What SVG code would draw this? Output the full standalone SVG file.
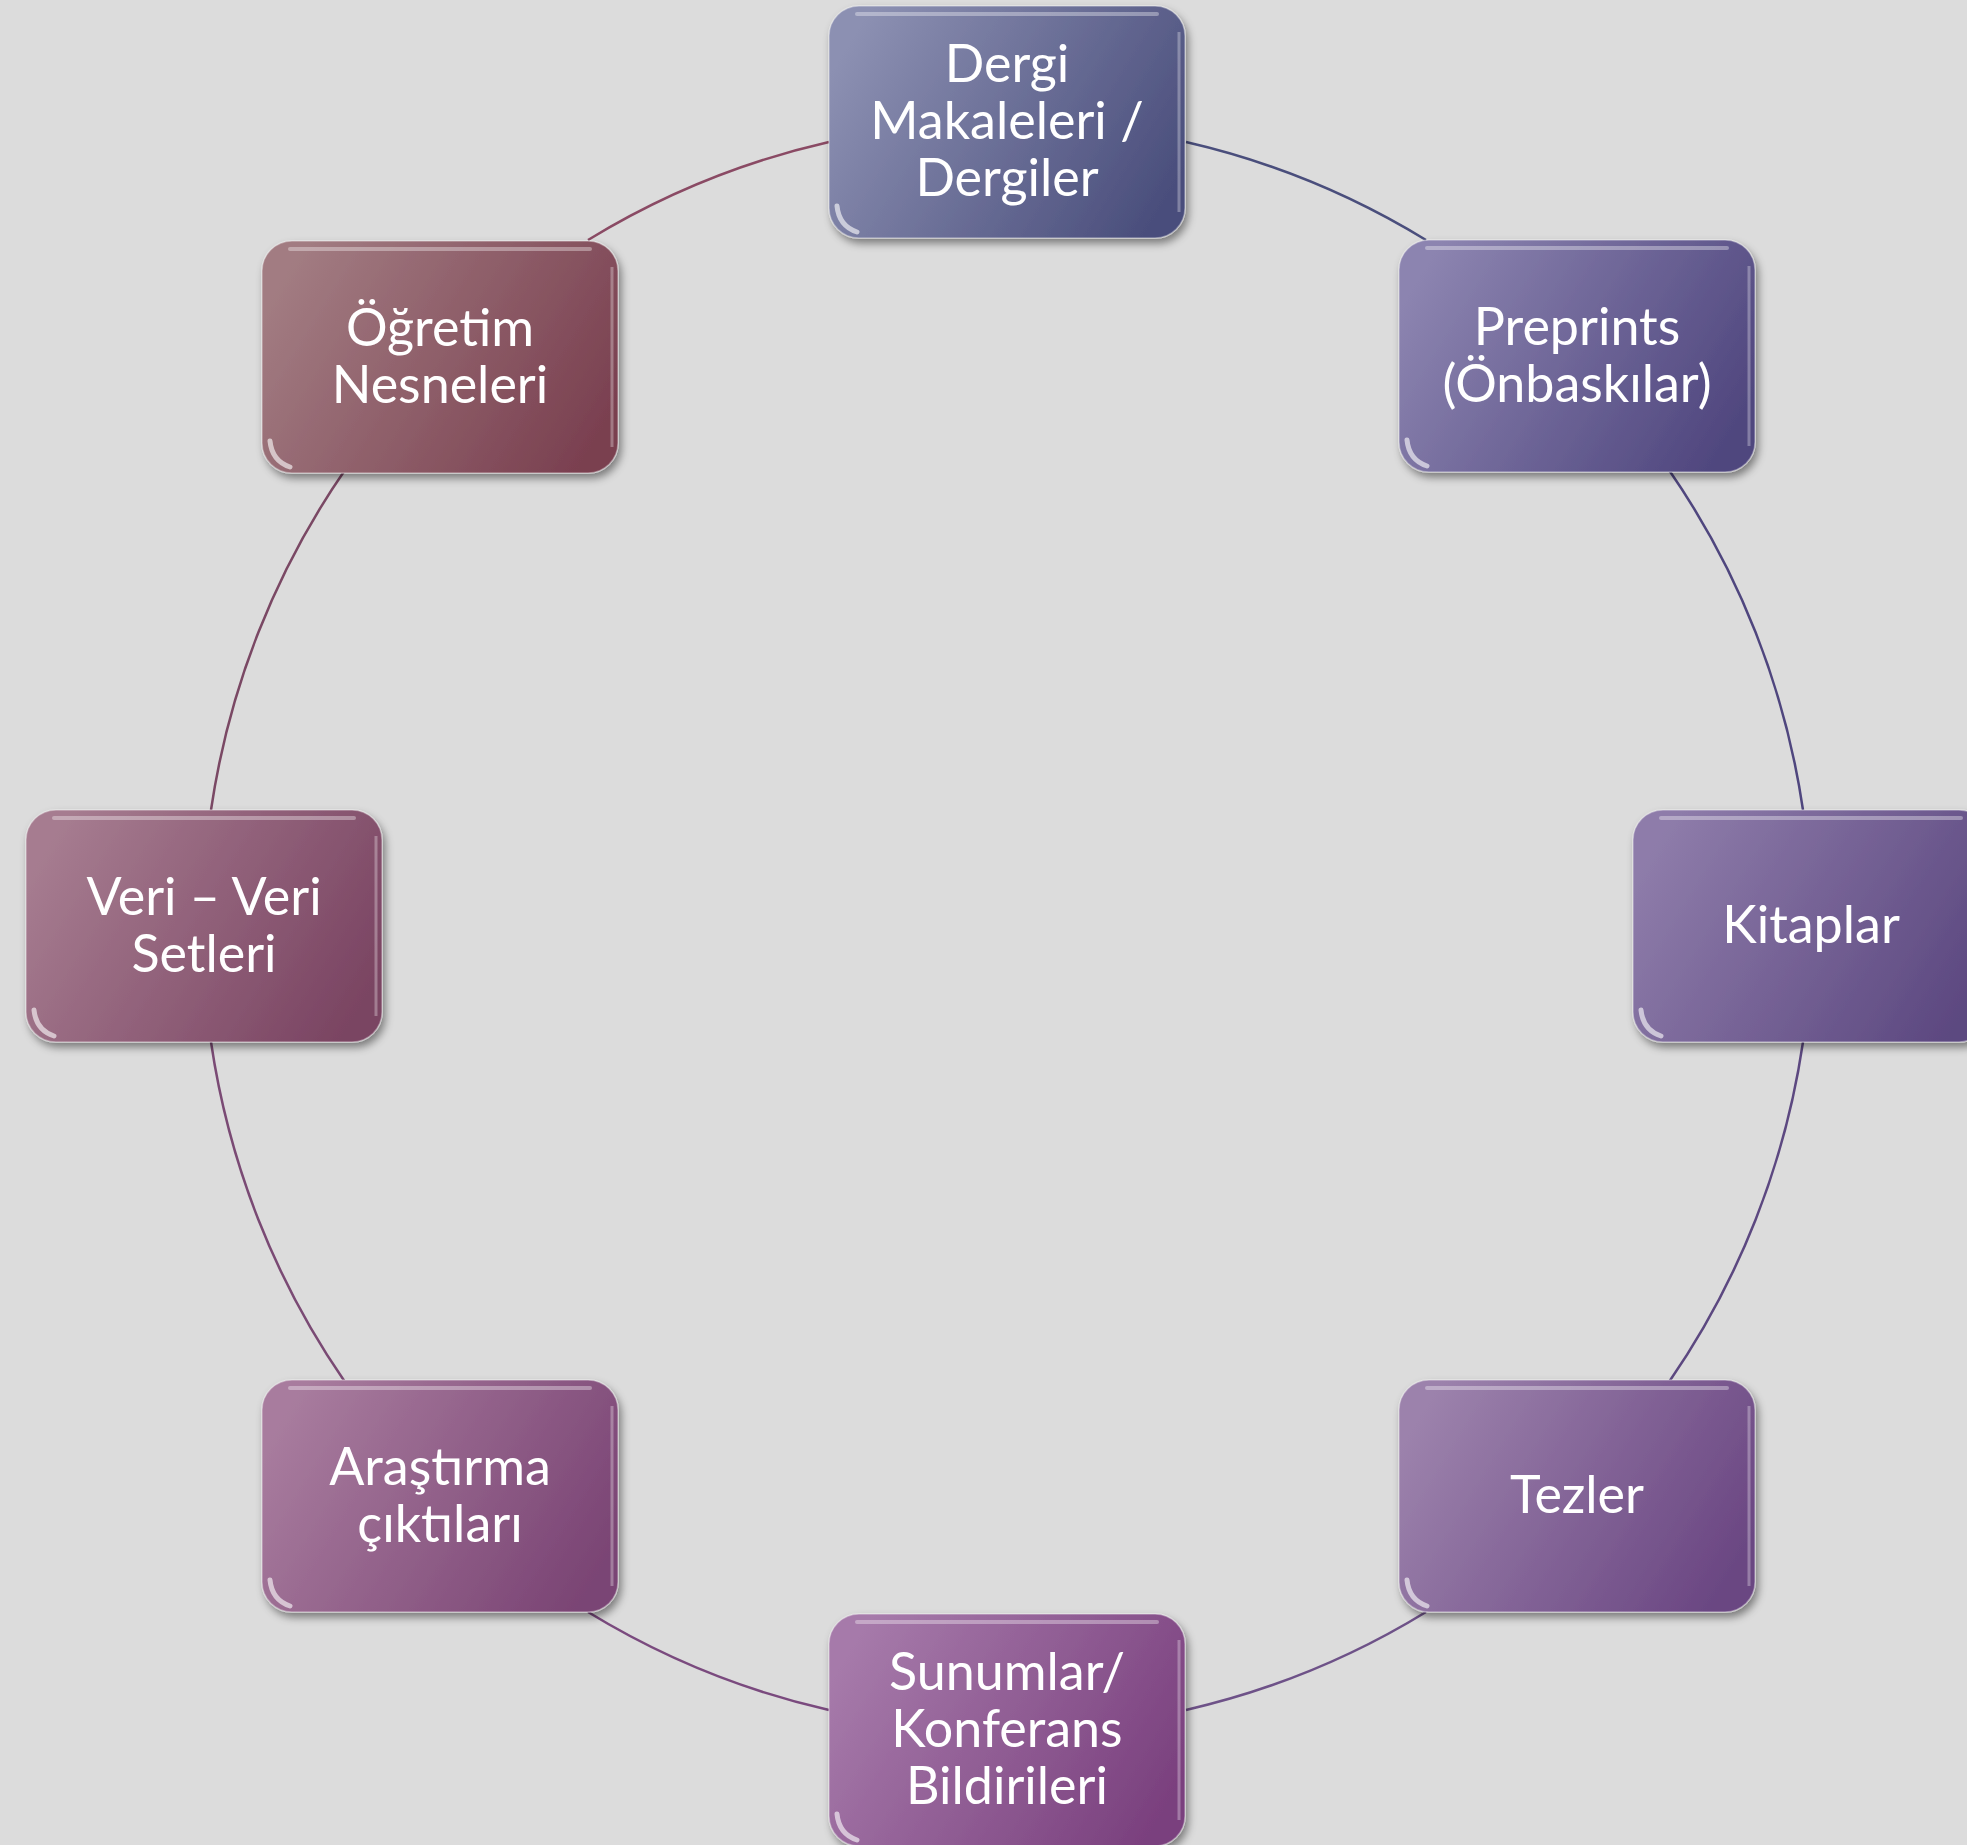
<svg xmlns="http://www.w3.org/2000/svg" width="1967" height="1845" viewBox="0 0 1967 1845">
<defs>
<style>
.lbl{font-family:Lato,"Open Sans","Liberation Sans",sans-serif;font-size:52px;fill:#ffffff;text-anchor:middle}
.arc{fill:none;stroke-width:2.5}
.box{stroke:#ffffff;stroke-opacity:0.35;stroke-width:1.5}
.gloss{fill:none;stroke:#ffffff;stroke-opacity:0.35;stroke-width:4;stroke-linecap:round}
.corner{fill:none;stroke:#ffffff;stroke-opacity:0.6;stroke-width:5;stroke-linecap:round}
.edge{fill:none;stroke:#ffffff;stroke-opacity:0.3;stroke-width:3}
</style>
<filter id="sh" x="-10%" y="-10%" width="125%" height="130%">
<feDropShadow dx="3" dy="5" stdDeviation="4" flood-color="#000" flood-opacity="0.45"/>
</filter>
<linearGradient id="g1" x1="0" y1="0.3" x2="1" y2="0.7"><stop offset="0" stop-color="#8c90b2"/><stop offset="1" stop-color="#4a4e7c"/></linearGradient>
<linearGradient id="g2" x1="0" y1="0.3" x2="1" y2="0.7"><stop offset="0" stop-color="#8c84b0"/><stop offset="1" stop-color="#4f467e"/></linearGradient>
<linearGradient id="g3" x1="0" y1="0.3" x2="1" y2="0.7"><stop offset="0" stop-color="#8e7caa"/><stop offset="1" stop-color="#5c4880"/></linearGradient>
<linearGradient id="g4" x1="0" y1="0.3" x2="1" y2="0.7"><stop offset="0" stop-color="#9c82ac"/><stop offset="1" stop-color="#6a4682"/></linearGradient>
<linearGradient id="g5" x1="0" y1="0.3" x2="1" y2="0.7"><stop offset="0" stop-color="#a67aaa"/><stop offset="1" stop-color="#7a407e"/></linearGradient>
<linearGradient id="g6" x1="0" y1="0.3" x2="1" y2="0.7"><stop offset="0" stop-color="#a87c9e"/><stop offset="1" stop-color="#7a4474"/></linearGradient>
<linearGradient id="g7" x1="0" y1="0.3" x2="1" y2="0.7"><stop offset="0" stop-color="#a67c90"/><stop offset="1" stop-color="#7a4462"/></linearGradient>
<linearGradient id="g8" x1="0" y1="0.3" x2="1" y2="0.7"><stop offset="0" stop-color="#a27c82"/><stop offset="1" stop-color="#7a4050"/></linearGradient>
</defs>
<rect width="1967" height="1845" fill="#dcdcdc"/>
<g id="connectors">
<path class="arc" stroke="#4a4e7c" d="M1186,142 A804,804 0 0 1 1426,240"/>
<path class="arc" stroke="#4f467e" d="M1669,470 A804,804 0 0 1 1803,810"/>
<path class="arc" stroke="#5c4880" d="M1803,1042 A804,804 0 0 1 1669,1382"/>
<path class="arc" stroke="#6e5288" d="M1426,1612 A804,804 0 0 1 1186,1710"/>
<path class="arc" stroke="#7a4a7e" d="M829,1710 A804,804 0 0 1 588,1612"/>
<path class="arc" stroke="#7a4a74" d="M345,1382 A804,804 0 0 1 211,1042"/>
<path class="arc" stroke="#7a4864" d="M211,810 A804,804 0 0 1 345,470"/>
<path class="arc" stroke="#8a4a64" d="M588,240 A804,804 0 0 1 829,142"/>
</g>
<g id="node-dergi" transform="translate(1007,122)">
<rect class="box" x="-178" y="-116" width="356" height="232" rx="30" fill="url(#g1)" filter="url(#sh)"/>
<path class="gloss" d="M-150,-108 H150"/><path class="corner" d="M-170,84 Q-168,104 -150,110"/><path class="edge" d="M172,-90 V90"/>
<text class="lbl" x="0" y="-40">Dergi</text>
<text class="lbl" x="0" y="17">Makaleleri /</text>
<text class="lbl" x="0" y="74">Dergiler</text>
</g>
<g id="node-preprints" transform="translate(1577,356)">
<rect class="box" x="-178" y="-116" width="356" height="232" rx="30" fill="url(#g2)" filter="url(#sh)"/>
<path class="gloss" d="M-150,-108 H150"/><path class="corner" d="M-170,84 Q-168,104 -150,110"/><path class="edge" d="M172,-90 V90"/>
<text class="lbl" x="0" y="-11">Preprints</text>
<text class="lbl" x="0" y="46">(Önbaskılar)</text>
</g>
<g id="node-kitaplar" transform="translate(1811,926)">
<rect class="box" x="-178" y="-116" width="356" height="232" rx="30" fill="url(#g3)" filter="url(#sh)"/>
<path class="gloss" d="M-150,-108 H150"/><path class="corner" d="M-170,84 Q-168,104 -150,110"/>
<text class="lbl" x="0" y="17">Kitaplar</text>
</g>
<g id="node-tezler" transform="translate(1577,1496)">
<rect class="box" x="-178" y="-116" width="356" height="232" rx="30" fill="url(#g4)" filter="url(#sh)"/>
<path class="gloss" d="M-150,-108 H150"/><path class="corner" d="M-170,84 Q-168,104 -150,110"/><path class="edge" d="M172,-90 V90"/>
<text class="lbl" x="0" y="17">Tezler</text>
</g>
<g id="node-sunumlar" transform="translate(1007,1730)">
<rect class="box" x="-178" y="-116" width="356" height="232" rx="30" fill="url(#g5)" filter="url(#sh)"/>
<path class="gloss" d="M-150,-108 H150"/><path class="corner" d="M-170,84 Q-168,104 -150,110"/><path class="edge" d="M172,-90 V90"/>
<text class="lbl" x="0" y="-40">Sunumlar/</text>
<text class="lbl" x="0" y="17">Konferans</text>
<text class="lbl" x="0" y="74">Bildirileri</text>
</g>
<g id="node-arastirma" transform="translate(440,1496)">
<rect class="box" x="-178" y="-116" width="356" height="232" rx="30" fill="url(#g6)" filter="url(#sh)"/>
<path class="gloss" d="M-150,-108 H150"/><path class="corner" d="M-170,84 Q-168,104 -150,110"/><path class="edge" d="M172,-90 V90"/>
<text class="lbl" x="0" y="-11">Araştırma</text>
<text class="lbl" x="0" y="46">çıktıları</text>
</g>
<g id="node-veri" transform="translate(204,926)">
<rect class="box" x="-178" y="-116" width="356" height="232" rx="30" fill="url(#g7)" filter="url(#sh)"/>
<path class="gloss" d="M-150,-108 H150"/><path class="corner" d="M-170,84 Q-168,104 -150,110"/><path class="edge" d="M172,-90 V90"/>
<text class="lbl" x="0" y="-11">Veri – Veri</text>
<text class="lbl" x="0" y="46">Setleri</text>
</g>
<g id="node-ogretim" transform="translate(440,357)">
<rect class="box" x="-178" y="-116" width="356" height="232" rx="30" fill="url(#g8)" filter="url(#sh)"/>
<path class="gloss" d="M-150,-108 H150"/><path class="corner" d="M-170,84 Q-168,104 -150,110"/><path class="edge" d="M172,-90 V90"/>
<text class="lbl" x="0" y="-11">Öğretim</text>
<text class="lbl" x="0" y="46">Nesneleri</text>
</g>
</svg>
